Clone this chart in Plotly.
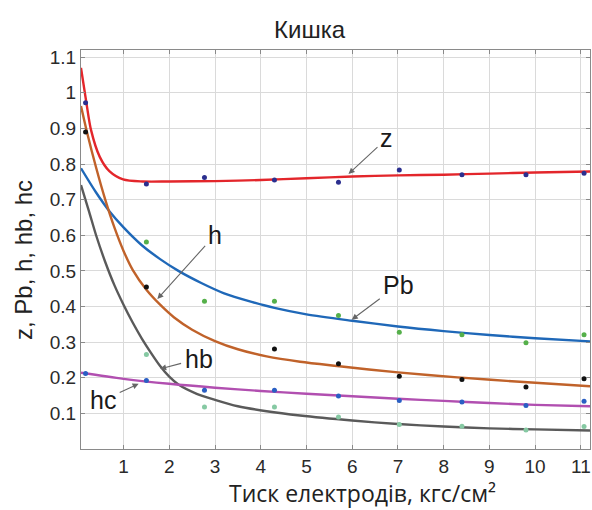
import plotly.graph_objects as go

# ---------------- data ----------------
x_points = [0.17, 1.5, 2.77, 4.3, 5.7, 7.03, 8.4, 9.8, 11.07]
z_points = [0.972, 0.744, 0.762, 0.755, 0.749, 0.783, 0.770, 0.770, 0.774]
h_points = [0.89, 0.455, None, 0.281, 0.239, 0.204, 0.195, 0.174, 0.197]
pb_points = [None, 0.581, 0.415, 0.415, 0.375, 0.328, 0.321, 0.298, 0.321]
hb_points = [0.212, 0.192, 0.165, 0.165, 0.149, 0.136, 0.132, 0.122, 0.134]
hc_points = [None, 0.265, 0.118, 0.118, 0.09, 0.069, 0.064, 0.053, 0.063]

z_curve_x = [0.07, 0.19, 0.29, 0.48, 0.69, 0.99, 1.42, 2, 3, 4, 5, 6, 7, 8, 9, 10, 11.2]
z_curve_y = [1.07, 0.97, 0.895, 0.82, 0.78, 0.757, 0.751, 0.751, 0.752, 0.755, 0.76,
             0.765, 0.768, 0.77, 0.773, 0.776, 0.779]

h_curve_x = [0.07, 0.2, 0.4, 0.6, 0.8, 1.0, 1.2, 1.5, 1.8, 2.1, 2.5, 3.0, 3.5, 4.13,
             4.86, 5.67, 7.0, 8.3, 9.75, 11.2]
h_curve_y = [0.963, 0.89, 0.79, 0.70, 0.622, 0.556, 0.503, 0.447, 0.405, 0.37, 0.335,
             0.303, 0.28, 0.26, 0.245, 0.233, 0.215, 0.201, 0.188, 0.176]

pb_curve_x = [0.07, 0.4, 0.7, 1.0, 1.4, 1.8, 2.2, 2.7, 3.2, 3.8, 4.3, 5, 6, 7, 8, 9, 10, 11.2]
pb_curve_y = [0.788, 0.72, 0.666, 0.622, 0.572, 0.533, 0.50, 0.466, 0.437, 0.413, 0.396,
              0.378, 0.36, 0.344, 0.331, 0.32, 0.311, 0.302]

hb_curve_x = [0.07, 1.0, 2, 3, 4, 5, 6, 7, 8, 9, 10, 11.2]
hb_curve_y = [0.214, 0.197, 0.183, 0.172, 0.163, 0.155, 0.148, 0.141, 0.135, 0.129,
              0.124, 0.12]

hc_curve_x = [0.07, 0.25, 0.4, 0.6, 0.8, 1.0, 1.2, 1.4, 1.6, 1.8, 2.0, 2.2, 2.6, 3.0,
              3.5, 4.13, 4.86, 6.0, 7.0, 8.0, 9.0, 10.0, 11.2]
hc_curve_y = [0.741, 0.665, 0.6, 0.525, 0.46, 0.405, 0.355, 0.31, 0.27, 0.233, 0.203,
              0.181, 0.155, 0.138, 0.12, 0.106, 0.094, 0.08, 0.07, 0.063, 0.058, 0.055,
              0.052]

x_ticks = [1, 2, 3, 4, 5, 6, 7, 8, 9, 10, 11]
y_ticks = [0.1, 0.2, 0.3, 0.4, 0.5, 0.6, 0.7, 0.8, 0.9, 1.0, 1.1]
y_tick_labels = ["0.1", "0.2", "0.3", "0.4", "0.5", "0.6", "0.7", "0.8", "0.9", "1", "1.1"]

# label name, text position (x, y), arrow tip (x, y)
labels = [
    ("z", (6.76, 0.872), (5.92, 0.772)),
    ("Pb", (7.01, 0.461), (5.99, 0.363)),
    ("h", (3.0, 0.601), (1.74, 0.421)),
    ("hb", (2.64, 0.253), (1.80, 0.225)),
    ("hc", (0.56, 0.137), (1.33, 0.183)),
]

# ---------------- figure ----------------
W, H = 592, 510
L, R, T, B = 81, 2, 50, 61
PW, PH = W - L - R, H - T - B
FONT = "Liberation Sans, Arial, sans-serif"


def paper_x(page_px):
    return (page_px - L) / PW


def paper_y(page_py):
    return (H - B - page_py) / PH


fig = go.Figure()

curves = [
    (z_curve_x, z_curve_y, "#e3262b"),
    (pb_curve_x, pb_curve_y, "#1f68b8"),
    (h_curve_x, h_curve_y, "#c0622a"),
    (hc_curve_x, hc_curve_y, "#5a5a5a"),
    (hb_curve_x, hb_curve_y, "#b14fb0"),
]
for cx, cy, col in curves:
    fig.add_trace(go.Scatter(x=cx, y=cy, mode="lines",
                             line=dict(color=col, width=2.4, shape="spline", smoothing=0.8),
                             hoverinfo="skip", showlegend=False))

dots = [
    (z_points, "#2b2f8f"),
    (h_points, "#111111"),
    (pb_points, "#55b04a"),
    (hb_points, "#2a5fc4"),
    (hc_points, "#86c9a3"),
]
for py, col in dots:
    fig.add_trace(go.Scatter(x=x_points, y=py, mode="markers",
                             marker=dict(color=col, size=5),
                             showlegend=False, cliponaxis=False))

for name, (tx, ty), (px, py) in labels:
    fig.add_annotation(x=px, y=py, ax=tx, ay=ty, xref="x", yref="y", axref="x", ayref="y",
                       text=name, showarrow=True, arrowhead=2, arrowsize=1.1,
                       arrowwidth=1.1, arrowcolor="#666666", standoff=0, startstandoff=2,
                       font=dict(family=FONT, size=25, color="#1a1a1a"))

fig.add_annotation(text="Кишка", xref="paper", yref="paper",
                   x=paper_x(310), y=paper_y(29),
                   showarrow=False, xanchor="center", yanchor="middle",
                   font=dict(family=FONT, size=24, color="#222222"))
fig.add_annotation(text="Тиск електродів, кгс/см²", xref="paper", yref="paper",
                   x=paper_x(362), y=paper_y(493),
                   showarrow=False, xanchor="center", yanchor="middle",
                   font=dict(family="Open Sans, sans-serif", size=23, color="#222222"))
fig.add_annotation(text="z, Pb, h, hb, hc", xref="paper", yref="paper",
                   x=paper_x(23), y=paper_y(260),
                   showarrow=False, xanchor="center", yanchor="middle", textangle=-90,
                   font=dict(family=FONT, size=24, color="#222222"))

axis_common = dict(showline=True, linecolor="#8a8a8a", linewidth=1, mirror="ticks",
                   ticks="inside", ticklen=4, tickcolor="#8a8a8a",
                   showgrid=True, gridcolor="#dadada", gridwidth=1, zeroline=False,
                   ticklabeloverflow="allow",
                   tickfont=dict(family=FONT, size=19, color="#2a2a2a"))

fig.update_xaxes(range=[0.07, 11.2], tickvals=x_ticks, **axis_common)
fig.update_yaxes(range=[0, 1.12], tickvals=y_ticks, ticktext=y_tick_labels, **axis_common)

fig.update_layout(width=W, height=H, margin=dict(l=L, r=R, t=T, b=B),
                  paper_bgcolor="white", plot_bgcolor="white", showlegend=False)

fig.write_html("out.html", config={"displayModeBar": False},
               post_script="document.body.style.margin='0px';"
                           "document.body.style.overflow='hidden';")
